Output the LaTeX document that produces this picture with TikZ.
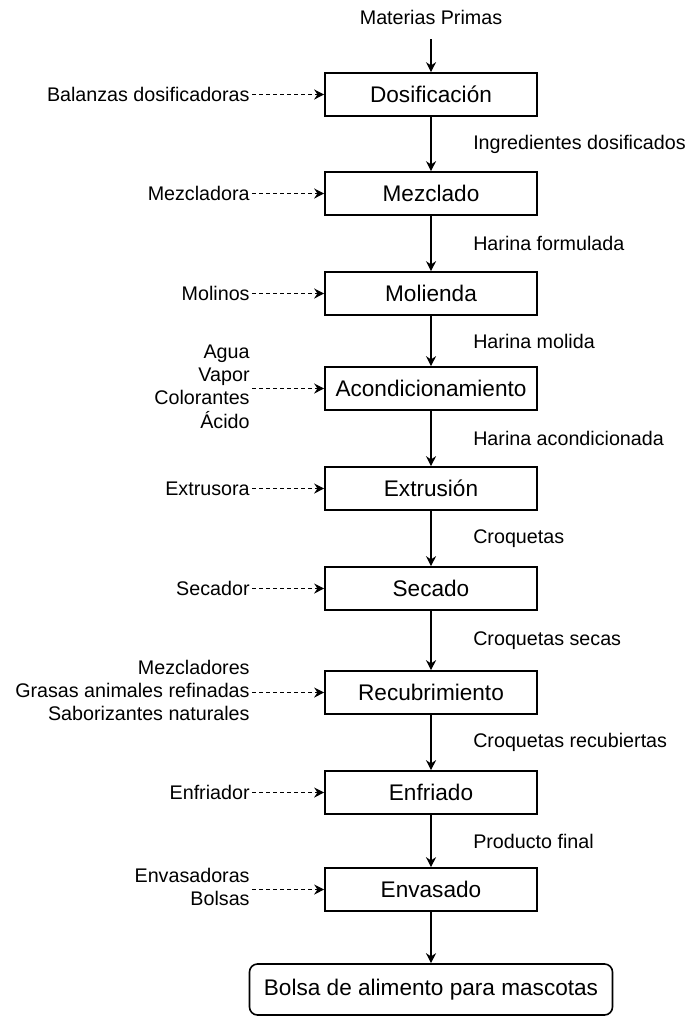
\documentclass[tikz,border=0pt]{standalone}
\usepackage{fontspec}
\setmainfont{Liberation Sans}
\usepackage{tikz}
\usetikzlibrary{matrix,arrows.meta}

\newcommand{\boxfont}{\fontsize{11.3pt}{13.5pt}\selectfont}
\newcommand{\labfont}{\fontsize{9.85pt}{11.5pt}\selectfont}
\newcommand{\inlist}[1]{\begin{tabular}{@{}r@{}}#1\end{tabular}}

\tikzset{flow/.style={-{Stealth[length=5pt,width=5pt,inset=1.6pt]},line width=0.6pt},
	feed/.style={flow,dash pattern=on 2pt off 1.5pt}}

\begin{document}
\begin{tikzpicture}
				\useasboundingbox (0,0) rectangle (344.5pt,-508.5pt);
				\matrix[matrix of nodes,column sep={89.5pt,between origins},row
				sep={50pt,between origins},cells={nodes={anchor=center,font=\boxfont}},
				column 1/.style={nodes={anchor=east,inner sep=1pt,font=\labfont}},
				column 2/.style={nodes={draw,line width=0.8pt,minimum width=106pt,minimum height=21.5pt}},
				row 1/.style={nodes={draw=none,font=\labfont}},
				row 11/.style={nodes={rounded corners=4pt,minimum width=181.5pt,minimum height=25.5pt}},
				matrix anchor=m-2-2.center,
				ampersand replacement=\&] (m) at (215.5pt,-47.25pt) {
					\& Materias Primas \\[-11.25pt]
					Balanzas dosificadoras \& Dosificación \\[-0.5pt]
					Mezcladora \& Mezclado \\
					Molinos \& Molienda \\[-2.5pt]
					\inlist{Agua\\Vapor\\Colorantes\\Ácido} \& Acondicionamiento \\
					Extrusora \& Extrusión \\
					Secador \& Secado \\[2pt]
					\inlist{Mezcladores\\Grasas animales refinadas\\Saborizantes naturales} \& Recubrimiento \\
					Enfriador \& Enfriado \\[-1.5pt]
					\inlist{Envasadoras\\Bolsas} \& Envasado \\
					\& Bolsa de alimento para mascotas \\
				};
				\draw[flow] (m-1-2) -- (m-2-2);
				\foreach \X/\T in {2/Ingredientes dosificados,3/Harina formulada,4/Harina molida,5/Harina acondicionada,6/Croquetas,7/Croquetas secas,8/Croquetas recubiertas,9/Producto final,10/}
				{\draw[feed] (m-\X-1) -- (m-\X-2);
					\ifnum\X=10
					\draw[flow] (m-10-2) -- (m-11-2);
					\else
					\draw[flow] (m-\X-2) -- (m-\the\numexpr\X+1\relax-2) node[midway,right=17.5pt,font=\labfont]{\T};
					\fi}
		\end{tikzpicture}
\end{document}
